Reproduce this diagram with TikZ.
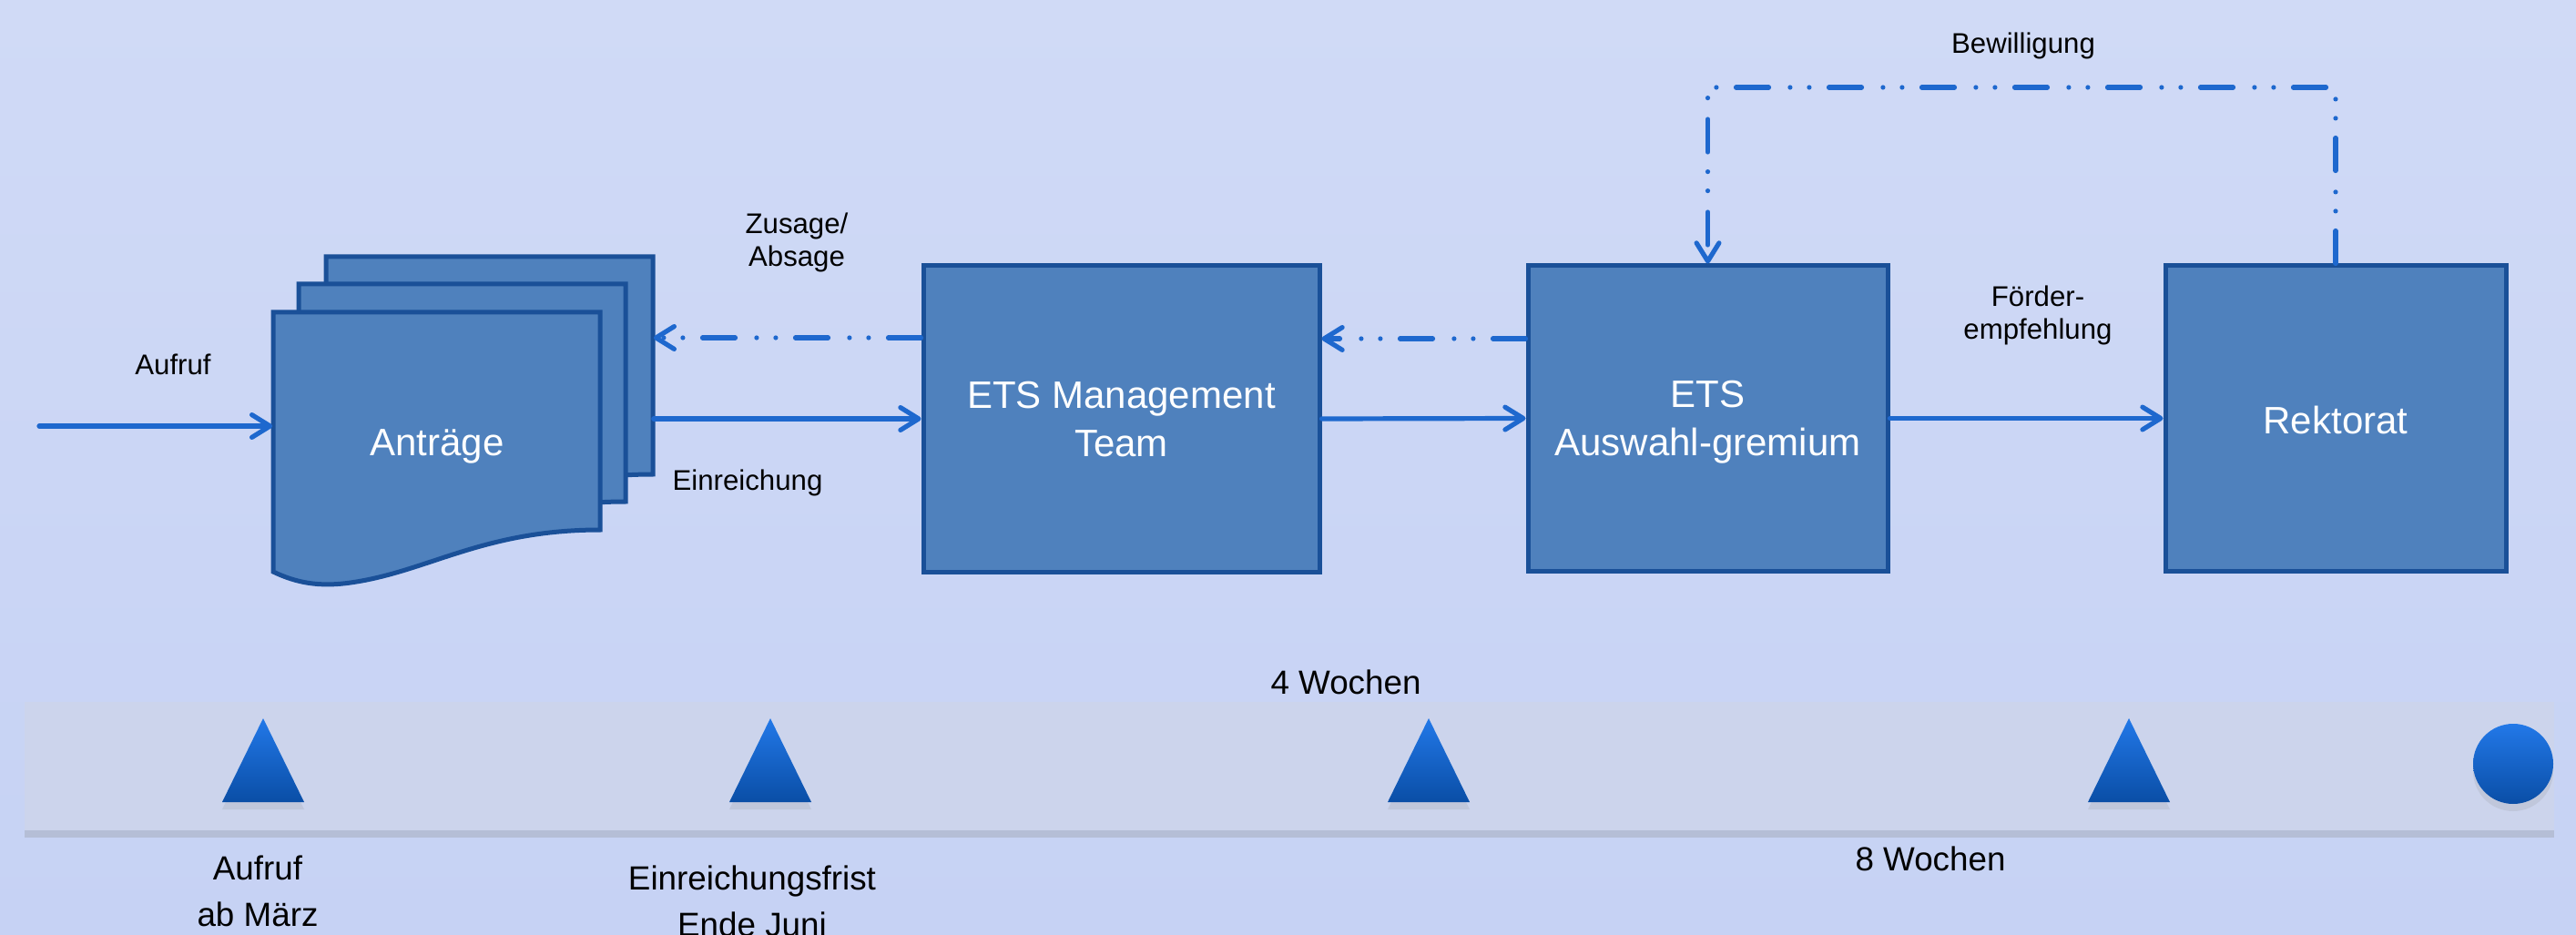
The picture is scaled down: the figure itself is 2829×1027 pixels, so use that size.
\documentclass[tikz,border=0pt]{standalone}
\usepackage{fontspec}
\setmainfont{Liberation Sans}
\usetikzlibrary{arrows.meta,shadows}
\definecolor{bgtop}{RGB}{208,218,246}
\definecolor{bgbot}{RGB}{198,210,244}
\definecolor{boxfill}{RGB}{79,129,189}
\definecolor{boxline}{RGB}{26,80,152}
\definecolor{conncol}{RGB}{30,104,206}
\definecolor{bandcol}{RGB}{204,212,236}
\definecolor{tritop}{RGB}{34,120,232}
\definecolor{tribot}{RGB}{10,78,166}
\begin{document}
\begin{tikzpicture}[x=0.25pt,y=-0.25pt,
  box/.style={draw=boxline,line width=1.25pt,fill=boxfill,text=white,align=center,
    inner sep=0pt,text depth=0pt,font=\fontsize{10.5}{13.3}\selectfont},
  docpage/.style={draw=boxline,line width=1.25pt,fill=boxfill},
  conn/.style={draw=conncol,line width=1.3pt,line cap=round,
    -{Straight Barb[length=5pt,width=6.2pt,round]}},
  dashconn/.style={draw=conncol,line width=1.3pt,line cap=round,
    dash pattern=on 9pt off 5.4pt on 0pt off 5.25pt on 0pt off 5.85pt,
    -{Straight Barb[length=5pt,width=6.2pt,round]}},
  lbl/.style={text=black,align=center,inner sep=0pt,font=\fontsize{7.8}{9}\selectfont},
  tl/.style={text=black,align=center,inner sep=0pt,font=\fontsize{9.2}{12.6}\selectfont},
  tri/.style={top color=tritop,bottom color=tribot,draw=none,
    drop shadow={shadow xshift=0pt,shadow yshift=-2pt,opacity=0.15}},
]
\useasboundingbox (0,0) rectangle (2829,1027);
\shade[top color=bgtop,bottom color=bgbot] (0,0) rectangle (2829,1027);

% document stack
\foreach \dx/\dy in {58/-61,28/-31,0/0}{
  \begin{scope}[shift={(\dx,\dy)}]
    \path[docpage] (300,343) -- (659,343) -- (659,582)
      .. controls (530,582) and (470,628) .. (385,640)
      .. controls (350,645) and (325,640) .. (300,628) -- cycle;
  \end{scope}
}
\node[inner sep=0pt,minimum width=104.25pt,minimum height=89.5pt] (stack) at (508.5,461) {};
\node[anchor=base,text=white,inner sep=0pt,font=\fontsize{10.5}{12.3}\selectfont] (antr) at (480,500) {Anträge};

% boxes
\node[box,minimum width=108.75pt,minimum height=84pt] (mt) at (1231.5,460) {ETS Management\\Team};
\node[box,minimum width=98.75pt,minimum height=83.75pt] (aw) at (1875.5,459.5) {ETS\\Auswahl-gremium};
\node[box,minimum width=93.5pt,minimum height=83.75pt] (rk) at (2565,459.5) {\raisebox{-0.7pt}{Rektorat}};

% connectors
\coordinate (aufstart) at (43,468);
\draw[conn] (aufstart) -- (stack.west |- aufstart);
\draw[conn] (stack.east |- mt.west) -- (mt.west);
\draw[conn] (mt.east) -- (aw.west);
\draw[conn] (aw.east) -- (rk.west);
\coordinate (zy) at (0,371);
\coordinate (ay) at (0,372);
\draw[dashconn] (mt.west |- zy) -- (stack.east |- zy);
\draw[dashconn] (aw.west |- ay) -- (mt.east |- ay);
\coordinate (bwy) at (0,96);
\draw[dashconn] (rk.north) -- (rk.north |- bwy) -- (aw.north |- bwy) -- (aw.north);

% labels
\node[lbl] (l-aufruf) at (190,400) {Aufruf};
\node[lbl] (l-einr) at (821,530) {Einreichung};
\node[lbl] (l-zus) at (875,266) {Zusage/\\Absage};
\node[lbl] (l-bew) at (2222,50) {Bewilligung};
\node[lbl] (l-foe) at (2238,346) {Förder-\\empfehlung};

% timeline
\node[fill=bandcol,draw=none,inner sep=0pt,minimum width=694.5pt,minimum height=35.25pt,
  drop shadow={shadow xshift=0pt,shadow yshift=-2pt,opacity=0.25}] (band) at (1416,841.5) {};
\foreach \x in {289,846,1569,2338}{
  \path[tri] (\x,789) -- (\x+45,881) -- (\x-45,881) -- cycle;
}
\shade[top color=tritop,bottom color=tribot,
  drop shadow={shadow xshift=0pt,shadow yshift=-2pt,opacity=0.15}] (2760,839) circle[radius=44];

\node[tl] (t-4w) at (1478,749) {4 Wochen};
\node[tl] (t-8w) at (2120,943) {8 Wochen};
\node[tl] (t-auf) at (283,979) {Aufruf\\ab März};
\node[tl] (t-ein) at (826,990) {Einreichungsfrist\\Ende Juni};
\end{tikzpicture}
\end{document}
